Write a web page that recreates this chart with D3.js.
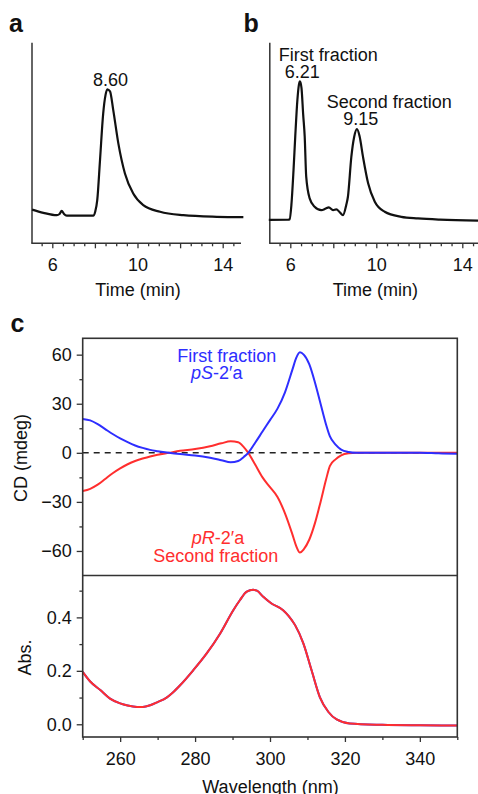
<!DOCTYPE html>
<html><head><meta charset="utf-8">
<script src="https://cdn.jsdelivr.net/npm/d3@7"></script>
<style>
body{margin:0;background:#fff;}
text{font-family:"Liberation Sans",Arial,Helvetica,sans-serif;}
</style></head>
<body><svg id="c" width="478" height="794"></svg>
<script>
// ---------- Data ----------
// Panel a chromatogram: [time (min), signal (a.u.)]
const chromA = [[5.05,16.8],[5.58,15.2],[6.21,14],[6.34,14.6],[6.44,16.2],[6.55,14.6],[6.68,13.8],[7.3,13.8],[7.92,13.8],[8.02,16],[8.11,21.5],[8.24,41.5],[8.39,64.8],[8.5,74],[8.58,76.8],[8.71,75.7],[8.86,66.5],[9.1,49.8],[9.41,34.8],[9.8,24.8],[10.27,19],[11.06,15.7],[12.15,14],[13.72,13.2],[14.97,13]];
const peakA = [{t:8.60, label:"8.60"}];
// Panel b chromatogram
const chromB = [[5.0,11.7],[5.9,11.75],[5.97,12],[6.05,19],[6.15,36.5],[6.23,53.2],[6.33,71.5],[6.4,79],[6.45,80.7],[6.52,77.5],[6.6,64],[6.67,53.2],[6.74,33.2],[6.9,22.4],[7.13,18.2],[7.44,16.5],[7.65,17.3],[7.79,17.9],[7.99,16.5],[8.14,16.9],[8.3,15.5],[8.45,14],[8.6,19],[8.68,23.2],[8.84,43.2],[8.97,53],[9.1,56.9],[9.22,53.5],[9.38,43.2],[9.62,29.9],[9.93,20.7],[10.39,15.7],[11.16,13.2],[11.94,12.4],[12.96,11.8],[14.73,11.3]];
const fractionLabels = ["First fraction","Second fraction"];
const fractionTimes = ["6.21","9.15"];
const timeTicks = [6,10,14];
// Panel c: CD spectra [wavelength (nm), CD (mdeg)]
const cdFirst = [[250,20.7],[252,19.8],[254,17.5],[256,14.5],[258,11.5],[260,8.8],[262,6.5],[264,4.5],[266,3],[268,1.8],[270,1],[273,0],[276,-0.8],[280,-1.6],[284,-3],[287,-4.5],[289.5,-5.8],[291.5,-5],[293,-2.5],[294.2,0],[296,6],[298,13],[300,20],[302,27],[304,37],[306,51],[307,58],[308,61.4],[309,60],[310.5,54],[312,43],[313.5,30],[315,17],[316,10],[317.5,5],[319,2],[321,0.5],[323,0],[330,0],[340,0],[345,-0.3],[350,-0.5]];
const cdSecond = [[250,-23.4],[252,-22],[254,-19.5],[256,-16],[258,-12.5],[260,-9.5],[262,-7],[264,-5],[266,-3.5],[268,-2.2],[270,-1.2],[273,0],[276,1.2],[280,2.3],[284,4],[287,5.8],[289.5,7],[291.5,6.5],[293,3.5],[294.2,0],[296,-7],[298,-15],[300,-21],[302,-27],[304,-37],[306,-50],[307,-57],[308,-61],[309,-59],[310.5,-53],[312,-43],[313.5,-30],[315,-16],[316,-8],[317.5,-4],[319,-1.5],[321,-0.3],[323,0],[335,0],[350,0]];
// Panel c: absorbance [wavelength (nm), Abs.]
const absFirst = [[250,0.196],[252,0.16],[254.7,0.128],[257.3,0.096],[260,0.078],[262,0.07],[264.5,0.065],[266,0.065],[268,0.071],[270,0.083],[272.4,0.1],[274,0.118],[276,0.146],[279.5,0.202],[283.1,0.265],[286.7,0.34],[290.2,0.427],[292,0.465],[293.8,0.496],[295.5,0.503],[296.5,0.5],[298.2,0.477],[300.4,0.452],[303.5,0.427],[305,0.405],[306.7,0.371],[308.9,0.303],[311.1,0.202],[313.3,0.102],[315.6,0.046],[317.8,0.018],[321.3,0.003],[330,-0.002],[340,-0.004],[350,-0.005]];
const absSecond = absFirst.map(d => [d[0], d[1]]);
const cdTicks = [-60,-30,0,30,60];
const cdMinor = [-45,-15,15,45];
const absTicks = [0,0.2,0.4];
const absMinor = [0.1,0.3,0.5];
const wlTicks = [260,280,300,320,340];
const wlMinor = [250,270,290,310,330,350];

// ---------- Drawing ----------
const svg = d3.select("#c");
const AX = "#333", BLUE = "#2e2eff", RED = "#ff2e2e";
const FS = 18;

function chrom(x0, x1, data, xAxisEnd){
  const x = d3.scaleLinear().domain([5,15]).range([x0, x1]);
  const y = d3.scaleLinear().domain([0,100]).range([243.3, 42.7]);
  const g = svg.append("g");
  g.append("line").attr("x1", x(5)+1).attr("x2", x(5)+1).attr("y1", 42.7).attr("y2", 243.3).attr("stroke", AX).attr("stroke-width",1.5);
  g.append("line").attr("x1", x(5)+0.3).attr("x2", xAxisEnd).attr("y1", 243.3).attr("y2", 243.3).attr("stroke", AX).attr("stroke-width",1.5);
  const minor = d3.range(5.5, 14.6, 0.5).filter(v => v % 2 !== 0);
  const ga = g.append("g").attr("transform","translate(0,243.3)")
    .call(d3.axisBottom(x).tickValues(minor).tickSize(3).tickFormat(""));
  ga.select(".domain").remove();
  const gb = g.append("g").attr("transform","translate(0,243.3)")
    .call(d3.axisBottom(x).tickValues([6,8,10,12,14]).tickSize(5).tickPadding(10)
      .tickFormat(d => timeTicks.includes(d) ? d : ""));
  gb.select(".domain").remove();
  g.selectAll(".tick line").attr("stroke", AX).attr("stroke-width",1.3);
  g.selectAll(".tick text").attr("font-size", FS).attr("fill","#111").style("font-family",'"Liberation Sans",Arial,sans-serif');
  g.append("text").attr("x", (x(5)+xAxisEnd)/2 + 2).attr("y", 296).attr("text-anchor","middle")
    .attr("font-size", FS).attr("fill","#111").text("Time (min)");
  g.append("path").datum(data)
    .attr("d", d3.line().x(d=>x(d[0])).y(d=>y(d[1])).curve(d3.curveMonotoneX))
    .attr("fill","none").attr("stroke","#111").attr("stroke-width",2.2).attr("stroke-linejoin","round");
  return {x,y,g};
}

const A = chrom(31, 244, chromA, 241);
A.g.append("text").attr("x", 110.5).attr("y", 85.5).attr("text-anchor","middle").attr("font-size",FS).attr("fill","#111").text(peakA[0].label);

const B = chrom(268.8, 483.8, chromB, 478);
B.g.append("text").attr("x", 328.3).attr("y", 61).attr("text-anchor","middle").attr("font-size",FS).attr("fill","#111").text(fractionLabels[0]);
B.g.append("text").attr("x", 302.2).attr("y", 77.5).attr("text-anchor","middle").attr("font-size",FS).attr("fill","#111").text(fractionTimes[0]);
B.g.append("text").attr("x", 389.2).attr("y", 107.5).attr("text-anchor","middle").attr("font-size",FS).attr("fill","#111").text(fractionLabels[1]);
B.g.append("text").attr("x", 360.8).attr("y", 125).attr("text-anchor","middle").attr("font-size",FS).attr("fill","#111").text(fractionTimes[1]);

// panel letters
svg.append("text").attr("x",9).attr("y",31.7).attr("font-size",25).attr("font-weight","bold").attr("fill","#111").text("a");
svg.append("text").attr("x",243.5).attr("y",31.7).attr("font-size",25).attr("font-weight","bold").attr("fill","#111").text("b");
svg.append("text").attr("x",10.5).attr("y",331.5).attr("font-size",25).attr("font-weight","bold").attr("fill","#111").text("c");

// ---------- Panel c ----------
const L = 82.7, R = 457.3, T = 338.3, M = 575.5, Bt = 737;
const xw = d3.scaleLinear().domain([250,350]).range([L, R]);
const ycd = d3.scaleLinear().domain([-75,70]).range([M, T]);
const yab = d3.scaleLinear().domain([-0.0476,0.5567]).range([Bt, M]);
const gc = svg.append("g");

function leftAxis(scale, majors, minors, fmt){
  const g1 = gc.append("g").attr("transform",`translate(${L},0)`)
    .call(d3.axisLeft(scale).tickValues(minors).tickSize(3.3).tickFormat(""));
  g1.select(".domain").remove();
  const g2 = gc.append("g").attr("transform",`translate(${L},0)`)
    .call(d3.axisLeft(scale).tickValues(majors).tickSize(6).tickPadding(5).tickFormat(fmt));
  g2.select(".domain").remove();
}
leftAxis(ycd, cdTicks, cdMinor, d3.format("d"));
leftAxis(yab, absTicks, absMinor, d3.format(".1f"));
const gx1 = gc.append("g").attr("transform",`translate(0,${Bt})`)
  .call(d3.axisBottom(xw).tickValues(wlMinor).tickSize(3).tickFormat(""));
gx1.select(".domain").remove();
const gx2 = gc.append("g").attr("transform",`translate(0,${Bt})`)
  .call(d3.axisBottom(xw).tickValues(wlTicks).tickSize(5).tickPadding(10).tickFormat(d3.format("d")));
gx2.select(".domain").remove();
gc.selectAll(".tick line").attr("stroke", AX).attr("stroke-width",1.3);
gc.selectAll(".tick text").attr("font-size", FS).attr("fill","#111").style("font-family",'"Liberation Sans",Arial,sans-serif');

// zero dashed line
gc.append("line").attr("x1", xw(250)).attr("x2", xw(350)).attr("y1", ycd(0)).attr("y2", ycd(0))
  .attr("stroke","#222").attr("stroke-width",1.6).attr("stroke-dasharray","6,5");

const lineCD = d3.line().x(d=>xw(d[0])).y(d=>ycd(d[1])).curve(d3.curveMonotoneX);
const lineAB = d3.line().x(d=>xw(d[0])).y(d=>yab(d[1])).curve(d3.curveMonotoneX);
gc.append("path").datum(cdSecond).attr("d", lineCD).attr("fill","none").attr("stroke",RED).attr("stroke-width",2);
gc.append("path").datum(cdFirst).attr("d", lineCD).attr("fill","none").attr("stroke",BLUE).attr("stroke-width",2);
gc.append("path").datum(absFirst).attr("d", lineAB).attr("fill","none").attr("stroke",BLUE).attr("stroke-width",2);
gc.append("path").datum(absSecond).attr("d", lineAB).attr("fill","none").attr("stroke",RED).attr("stroke-width",2);

// frame
gc.append("rect").attr("x",L).attr("y",T).attr("width",R-L).attr("height",Bt-T)
  .attr("fill","none").attr("stroke",AX).attr("stroke-width",1.6);
gc.append("line").attr("x1",L).attr("x2",R).attr("y1",M).attr("y2",M).attr("stroke",AX).attr("stroke-width",1.6);

// labels
gc.append("text").attr("transform","translate(27,458) rotate(-90)").attr("text-anchor","middle").attr("font-size",FS).attr("fill","#111").text("CD (mdeg)");
gc.append("text").attr("transform","translate(31,657.5) rotate(-90)").attr("text-anchor","middle").attr("font-size",FS).attr("fill","#111").text("Abs.");
gc.append("text").attr("x",(L+R)/2 + 0.5).attr("y",792.7).attr("text-anchor","middle").attr("font-size",FS).attr("fill","#111").text("Wavelength (nm)");

gc.append("text").attr("x",226.7).attr("y",361.5).attr("text-anchor","middle").attr("font-size",FS).attr("fill",BLUE).text(fractionLabels[0]);
const t1 = gc.append("text").attr("x",216.7).attr("y",378.5).attr("text-anchor","middle").attr("font-size",FS).attr("fill",BLUE);
t1.append("tspan").attr("font-style","italic").text("pS");
t1.append("tspan").text("-2\u2032a");
const t2 = gc.append("text").attr("x",218).attr("y",544).attr("text-anchor","middle").attr("font-size",FS).attr("fill",RED);
t2.append("tspan").attr("font-style","italic").text("pR");
t2.append("tspan").text("-2\u2032a");
gc.append("text").attr("x",215.8).attr("y",561.5).attr("text-anchor","middle").attr("font-size",FS).attr("fill",RED).text(fractionLabels[1]);
</script></body></html>
